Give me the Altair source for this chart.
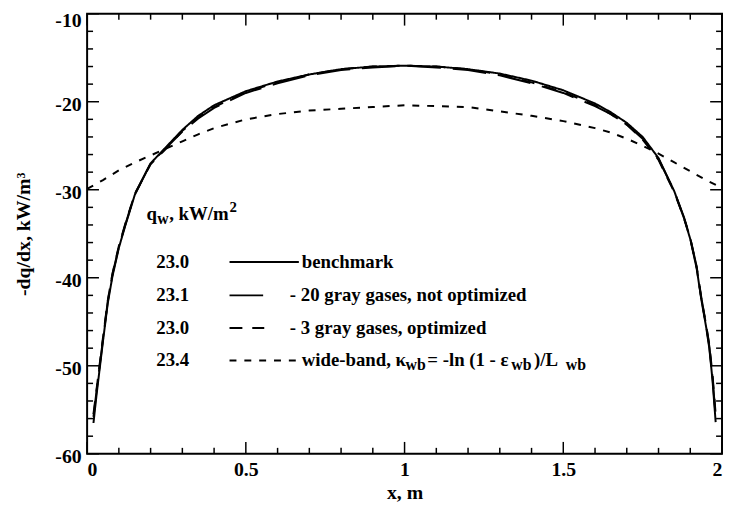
import altair as alt
import pandas as pd
import numpy as np

# ---------------- data ----------------
X = [0.02, 0.03, 0.04, 0.05, 0.065, 0.08, 0.1, 0.12, 0.15, 0.2, 0.25, 0.3, 0.35, 0.4,
     0.5, 0.6, 0.7, 0.8, 0.9, 1.0, 1.1, 1.2, 1.3, 1.4, 1.5, 1.6, 1.65, 1.7, 1.75, 1.8,
     1.85, 1.88, 1.9, 1.92, 1.935, 1.95, 1.96, 1.97, 1.98]
BENCH = [-56.5, -53.2, -50.2, -47.2, -42.9, -39.8, -36.6, -34.1, -30.6, -27.0, -25.1,
         -23.2, -21.6, -20.4, -18.8, -17.7, -16.9, -16.3, -16.0, -15.9,
         -16.0, -16.3, -16.8, -17.6, -18.7, -20.2, -21.2, -22.4, -24.0, -26.4, -30.2,
         -33.2, -35.6, -38.9, -42.5, -45.6, -48.0, -51.6, -56.4]
G20 = [-55.8, -52.8, -49.9, -47.0, -42.7, -39.6, -36.5, -34.0, -30.5, -27.0, -25.2,
       -23.4, -21.9, -20.7, -19.0, -17.9, -17.0, -16.4, -16.1, -15.9,
       -16.1, -16.4, -17.0, -17.9, -19.0, -20.5, -21.4, -22.6, -24.2, -26.5, -30.2,
       -33.1, -35.5, -38.7, -42.3, -45.4, -47.8, -51.3, -55.8]
G3 = [-55.5, -52.6, -49.7, -46.8, -42.6, -39.5, -36.4, -33.9, -30.5, -27.1, -25.3,
      -23.3, -21.8, -20.6, -18.9, -17.8, -16.9, -16.3, -16.0, -15.9,
      -16.0, -16.3, -16.9, -17.8, -18.9, -20.4, -21.4, -22.6, -24.3, -26.6, -30.3,
      -33.2, -35.5, -38.8, -42.4, -45.4, -47.6, -51.0, -55.5]
WX = [0.0, 0.05, 0.1, 0.15, 0.2, 0.25, 0.3, 0.35, 0.4, 0.5, 0.6, 0.7, 0.8, 0.9, 1.0,
      1.1, 1.2, 1.3, 1.4, 1.5, 1.6, 1.65, 1.7, 1.75, 1.8, 1.85, 1.9, 1.95, 2.0]
WB = [-29.9, -28.9, -27.8, -26.9, -26.1, -25.3, -24.5, -23.7, -23.0, -22.0, -21.4,
      -21.0, -20.8, -20.6, -20.4, -20.5, -20.6, -21.1, -21.6, -22.2, -23.0, -23.5,
      -24.2, -25.0, -25.9, -26.9, -27.9, -28.9, -29.8]

SERIES = ["bench", "g20", "g3", "wb"]
DASHES = [[1, 0], [34, 12], [13, 10], [7, 8]]
LEG_VALUES = ["23.0", "23.1", "23.0", "23.4"]
LEG_LABELS = ["benchmark", "- 20 gray gases, not optimized",
              "- 3 gray gases, optimized", "wide-band, \u03ba"]
LEG_TITLE_Y = -32.8
LEG_Y = [-38.2, -42.0, -45.7, -49.4]
LEG_LINE_END = [0.667, 0.558, 0.558, 0.667]

FONT = "Liberation Serif"
W, H = 642, 445
XD, YD = [0, 2], [-60, -10]
PX_X = W / (XD[1] - XD[0])
PX_Y = H / (YD[1] - YD[0])

def px2x(p):
    return (p - 88) / PX_X

xs = alt.Scale(domain=XD, nice=False, zero=False)
ys = alt.Scale(domain=YD, nice=False, zero=False)
dash_scale = alt.Scale(domain=SERIES, range=DASHES)

# ---------------- curves ----------------
rows = []
for s, vals in (("bench", BENCH), ("g20", G20), ("g3", G3)):
    rows += [{"series": s, "x": a, "y": b} for a, b in zip(X, vals)]
rows += [{"series": "wb", "x": a, "y": b} for a, b in zip(WX, WB)]
curves = pd.DataFrame(rows)

x_axis = alt.Axis(values=[0, 0.5, 1, 1.5, 2], ticks=False, domain=False, grid=False,
                  labelExpr="'' + datum.value", labelFont=FONT, labelFontSize=20,
                  labelFontWeight="bold", labelColor="black", labelPadding=6,
                  title="x, m", titleFont=FONT, titleFontSize=20, titleFontWeight="bold",
                  titleColor="black", titlePadding=3)
y_axis = alt.Axis(values=[-60, -50, -40, -30, -20, -10], ticks=False, domain=False,
                  grid=False, labelExpr="'' + datum.value", labelFont=FONT,
                  labelFontSize=20, labelFontWeight="bold", labelColor="black",
                  labelPadding=6,
                  labelOffset={"condition": {"test": "datum.value == -10", "value": 7},
                               "value": 3},
                  title="-dq/dx, kW/m\u00b3",
                  titleFont=FONT, titleFontSize=20, titleFontWeight="bold",
                  titleColor="black", titlePadding=22)

lines = alt.Chart(curves).mark_line(color="black", strokeWidth=2).encode(
    x=alt.X("x:Q", scale=xs, axis=x_axis),
    y=alt.Y("y:Q", scale=ys, axis=y_axis),
    strokeDash=alt.StrokeDash("series:N", scale=dash_scale, legend=None),
    detail="series:N",
)

# ---------------- inward ticks on all four sides ----------------
tk = []
def add_x_ticks(vals, length):
    for v in vals:
        tk.append({"x": v, "x2": v, "y": YD[0], "y2": YD[0] + length / PX_Y})
        tk.append({"x": v, "x2": v, "y": YD[1], "y2": YD[1] - length / PX_Y})
def add_y_ticks(vals, length):
    for v in vals:
        tk.append({"x": XD[0], "x2": XD[0] + length / PX_X, "y": v, "y2": v})
        tk.append({"x": XD[1], "x2": XD[1] - length / PX_X, "y": v, "y2": v})
xmaj = [0, 0.5, 1, 1.5, 2]
xmin = [round(v, 2) for v in np.arange(0, 2.001, 0.1) if round(v, 2) not in xmaj]
ymaj = [-60, -50, -40, -30, -20, -10]
ymin = [v for v in range(-60, -9, 2) if v not in ymaj]
add_x_ticks(xmaj, 12); add_x_ticks(xmin, 6)
add_y_ticks(ymaj, 12); add_y_ticks(ymin, 6)
ticks = alt.Chart(pd.DataFrame(tk)).mark_rule(color="black", strokeWidth=1.5).encode(
    x=alt.X("x:Q", scale=xs), x2="x2:Q",
    y=alt.Y("y:Q", scale=ys), y2="y2:Q")

# ---------------- legend (inside the plot) ----------------
leg_lines = pd.DataFrame({"series": SERIES, "x": [px2x(232)] * 4,
                          "x2": LEG_LINE_END, "y": LEG_Y})
leg_rules = alt.Chart(leg_lines).mark_rule(color="black", strokeWidth=2).encode(
    x=alt.X("x:Q", scale=xs), x2="x2:Q",
    y=alt.Y("y:Q", scale=ys),
    strokeDash=alt.StrokeDash("series:N", scale=dash_scale, legend=None))

main_txt = [{"x": px2x(158), "y": yv, "t": v} for v, yv in zip(LEG_VALUES, LEG_Y)]
lab_x = [px2x(305), px2x(293), px2x(293), px2x(305)]
main_txt += [{"x": lx, "y": yv, "t": t} for lx, t, yv in zip(lab_x, LEG_LABELS, LEG_Y)]
main_txt += [
    {"x": px2x(148), "y": LEG_TITLE_Y, "t": "q"},
    {"x": px2x(171), "y": LEG_TITLE_Y, "t": ", kW/m"},
    {"x": px2x(432), "y": LEG_Y[3], "t": "= -ln (1 - \u03b5"},
    {"x": px2x(540), "y": LEG_Y[3], "t": ")/L"},
]
sub_txt = [
    {"x": px2x(159), "y": LEG_TITLE_Y, "t": "w"},
    {"x": px2x(410), "y": LEG_Y[3], "t": "wb"},
    {"x": px2x(517), "y": LEG_Y[3], "t": "wb"},
    {"x": px2x(572), "y": LEG_Y[3], "t": "wb"},
]
sup_txt = [{"x": px2x(232), "y": LEG_TITLE_Y, "t": "2"}]

def text_layer(rows_, size, dy):
    return alt.Chart(pd.DataFrame(rows_)).mark_text(
        align="left", baseline="middle", font=FONT, fontSize=size, fontWeight="bold",
        color="black", dy=dy).encode(
        x=alt.X("x:Q", scale=xs), y=alt.Y("y:Q", scale=ys), text="t:N")

texts = text_layer(main_txt, 19, 0)
subs = text_layer(sub_txt, 16, 5)
sups = text_layer(sup_txt, 15, -7)

chart = alt.layer(lines, ticks, leg_rules, texts, subs, sups).properties(
    width=W, height=H,
    autosize=alt.AutoSizeParams(type="none"),
    padding={"left": 80, "top": 3, "right": 1, "bottom": 50},
    background="white",
).configure_view(stroke="black", strokeWidth=2)

chart.save("out.html", embed_options={"renderer": "svg", "actions": False})
